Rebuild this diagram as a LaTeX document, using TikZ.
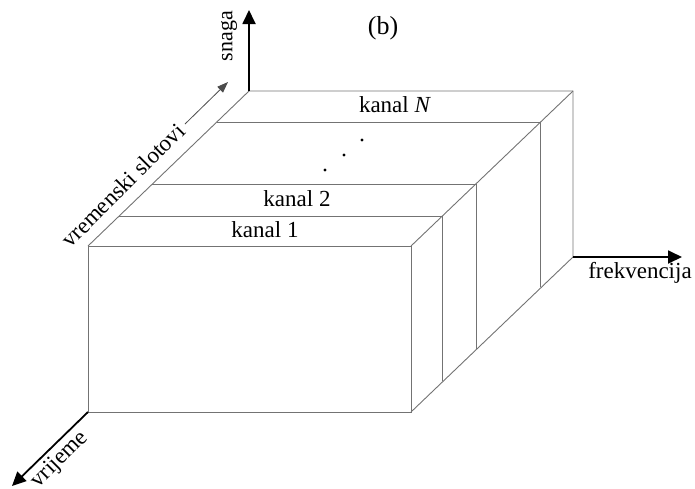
\documentclass[tikz,border=0pt]{standalone}
\usepackage{fontspec}
\setmainfont{Liberation Serif}
\usetikzlibrary{arrows.meta}
\begin{document}
\begin{tikzpicture}[x=1pt,y=-1pt,
  edge/.style={draw=black!55,line width=0.9pt},
  axis/.style={draw=black,line width=1.8pt,-{Triangle[length=14pt,width=13pt]}},
  thinarrow/.style={draw=black!70,line width=0.8pt,-{Triangle[length=11pt,width=8pt]}},
  lbl/.style={inner sep=0pt,font=\fontsize{23}{26}\selectfont}]
\useasboundingbox (0,0) rectangle (695,488);
% corners
\coordinate (FTL) at (88,246);
\coordinate (FTR) at (411,246);
\coordinate (FBL) at (88,412);
\coordinate (FBR) at (411,412);
\coordinate (BTL) at (249,91);
\coordinate (BTR) at (573,91);
\coordinate (BBR) at (573,257);
% slice corners
\coordinate (A1L) at (119,216); \coordinate (A1R) at (442,216); \coordinate (A1B) at (442,381);
\coordinate (A2L) at (152,184); \coordinate (A2R) at (476,184); \coordinate (A2B) at (476,349);
\coordinate (ANL) at (217,122); \coordinate (ANR) at (540,122); \coordinate (ANB) at (540,287);
% box
\draw[edge] (FTL) rectangle (FBR);
\draw[edge] (FTL) -- (BTL) -- (BTR) -- (BBR) -- (FBR);
\draw[edge] (BTR) -- (FTR);
\draw[edge] (A1L) -- (A1R) -- (A1B);
\draw[edge] (A2L) -- (A2R) -- (A2B);
\draw[edge] (ANL) -- (ANR) -- (ANB);
% axes
\coordinate (Ysnaga) at (249,10);
\coordinate (Xfrek) at (682,257);
\coordinate (Zvrij) at (12,486);
\draw[axis] (BTL) -- (Ysnaga);
\draw[axis] (BBR) -- (Xfrek);
\draw[axis] (FBL) -- (Zvrij);
\coordinate (S1) at (185,124);
\coordinate (S2) at (228,82);
\draw[thinarrow] (S1) -- (S2);
% labels
\node[lbl,font=\fontsize{26}{28}\selectfont] (b) at (383,28) {(b)};
\node[lbl] (kN) at (395,105) {kanal \textit{N}};
\node[lbl] (k2) at (297,199) {kanal 2};
\node[lbl] (k1) at (265,230) {kanal 1};
\node[lbl,font=\fontsize{22}{24}\selectfont,rotate=90] (snaga) at (229,36) {snaga};
\node[lbl] (frek) at (640,273) {frekvencija};
\node[lbl,rotate=45] (vrij) at (60,460) {vrijeme};
\node[lbl,rotate=45] (vs) at (123,185) {vremenski slotovi};
\fill (325,170) circle (1.6pt) (344,155) circle (1.6pt) (362,140) circle (1.6pt);
\end{tikzpicture}
\end{document}
